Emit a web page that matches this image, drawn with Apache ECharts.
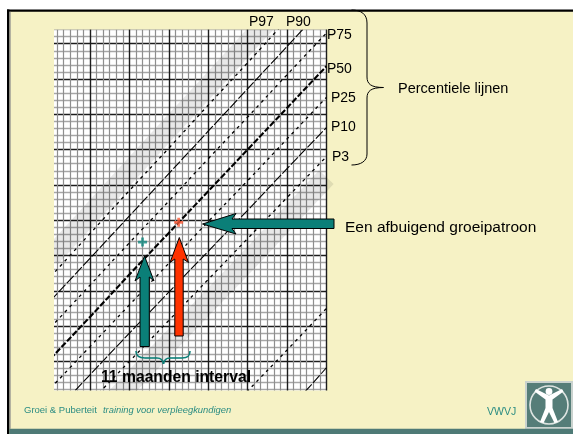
<!DOCTYPE html>
<html>
<head>
<meta charset="utf-8">
<script src="https://cdn.jsdelivr.net/npm/echarts@6/dist/echarts.min.js"></script>
<style>
html,body{margin:0;padding:0;background:#fff;}
#c{width:573px;height:434px;}
</style>
</head>
<body>
<div id="c"></div>
<script>
// ---- data (age in months, length in cm) ----
const months = [0, 12, 24, 36, 48, 60, 72, 84];
const p97 = [92.0, 98.1, 104.2, 110.2, 116.3, 122.3, 128.4, 134.4];
const p90 = [88.6, 94.6, 100.6, 106.6, 112.6, 118.6, 124.6, 130.6];
const p75 = [84.8, 90.8, 96.8, 102.7, 108.7, 114.6, 120.6, 126.5];
const p50 = [80.4, 86.3, 92.3, 98.2, 104.1, 110.0, 115.9, 121.8];
const p25 = [76.2, 82.1, 88.0, 93.9, 99.8, 105.6, 111.5, 117.4];
const p10 = [72.2, 78.1, 84.0, 89.8, 95.6, 101.4, 107.3, 113.1];
const p3  = [68.3, 74.2, 80.0, 85.8, 91.6, 97.4, 103.2, 109.0];
const bandHigh = [94.7, 100.8, 106.9, 113.0, 119.0, 125.1, 131.2, 137.3];
const bandLow  = [65.2, 71.0, 76.8, 82.6, 88.4, 94.2, 100.2, 106.1];
const extraA = [null, null, null, null, 69.9, 75.8, 81.6, 87.5];
const extraB = [null, null, null, null, null, 67.0, 72.9, 79.1];
const measureMonths = [28, 39];
const measureCm = [96.9, 99.7];
const percentileNames = ['P97', 'P90', 'P75', 'P50', 'P25', 'P10', 'P3'];

const pairs = arr => months.map((m, i) => [m, arr[i]]);
const FONT = '"Liberation Sans", Arial, sans-serif';
const TEAL = '#0b7f78';
const chart = echarts.init(document.getElementById('c'), null, {renderer: 'canvas'});

const dashed = {color: '#000', width: 1.3, type: [3, 4]};
const solid = {color: '#000', width: 1.1, type: [10, 2]};
function lineSeries(arr, style, z) {
  return {type: 'line', data: pairs(arr), smooth: true, symbol: 'none', silent: true,
          lineStyle: style, z: z || 3, animation: false};
}
const plusPath = 'path://M3.5,0L6.5,0L6.5,3.5L10,3.5L10,6.5L6.5,6.5L6.5,10L3.5,10L3.5,6.5L0,6.5L0,3.5L3.5,3.5Z';

// build a brace out of straight and cubic pieces
function braceParts(segs, stroke, width) {
  return segs.map(s => s.length === 4
    ? {type: 'line', shape: {x1: s[0], y1: s[1], x2: s[2], y2: s[3]}, style: {stroke, lineWidth: width}, z: 110}
    : {type: 'bezierCurve', shape: {x1: s[0], y1: s[1], cpx1: s[2], cpy1: s[3], cpx2: s[4], cpy2: s[5], x2: s[6], y2: s[7]},
       style: {stroke, lineWidth: width, fill: null}, z: 110});
}
const bigBrace = braceParts([
  [351.5,10, 361,10, 367,14, 367,23],
  [367,23, 367,77],
  [367,77, 367,84, 371,87.5, 383.5,87.5],
  [383.5,87.5, 371,87.5, 367,91, 367,98],
  [367,98, 367,154],
  [367,154, 367,161, 361,165, 351.5,165]
], '#000', 1);
const smallBrace = braceParts([
  [136,351, 136,356, 139,358, 145,358],
  [145,358, 157,358],
  [157,358, 161,358, 163,360, 163.5,364],
  [163.5,364, 164,360, 166,358, 170,358],
  [170,358, 182,358],
  [182,358, 188,358, 190,356, 190,351]
], TEAL, 1.6);

const graphics = [
  // covers around the chart paper
  {type: 'rect', shape: {x: 9, y: 11, width: 564, height: 18.6}, style: {fill: '#f6f2c5'}, z: 100},
  {type: 'rect', shape: {x: 9, y: 11, width: 45, height: 400}, style: {fill: '#f6f2c5'}, z: 100},
  {type: 'rect', shape: {x: 9, y: 390.6, width: 335, height: 20}, style: {fill: '#f6f2c5'}, z: 100},
  // slide frame
  {type: 'rect', shape: {x: 0, y: 0, width: 573, height: 10}, style: {fill: '#ffffff'}, z: 101},
  {type: 'rect', shape: {x: 0, y: 0, width: 7, height: 434}, style: {fill: '#ffffff'}, z: 101},
  {type: 'rect', shape: {x: 7, y: 9.5, width: 566, height: 2.2}, style: {fill: '#000'}, z: 102},
  {type: 'rect', shape: {x: 7, y: 9.5, width: 2.4, height: 425}, style: {fill: '#000'}, z: 102},
  {type: 'rect', shape: {x: 9.4, y: 11.7, width: 1.2, height: 417}, style: {fill: '#888'}, z: 102},
  {type: 'rect', shape: {x: 9.4, y: 428.8, width: 564, height: 6}, style: {fill: '#4e7a76'}, z: 102},
  // percentile labels
  {type: 'text', x: 249, y: 22, style: {text: percentileNames[0], font: '14px ' + FONT, fill: '#000', textVerticalAlign: 'middle'}, z: 110},
  {type: 'text', x: 286, y: 22, style: {text: percentileNames[1], font: '14px ' + FONT, fill: '#000', textVerticalAlign: 'middle'}, z: 110},
  {type: 'text', x: 327, y: 35, style: {text: percentileNames[2], font: '14px ' + FONT, fill: '#000', textVerticalAlign: 'middle'}, z: 110},
  {type: 'text', x: 327, y: 69, style: {text: percentileNames[3], font: '14px ' + FONT, fill: '#000', textVerticalAlign: 'middle'}, z: 110},
  {type: 'text', x: 331, y: 98, style: {text: percentileNames[4], font: '14px ' + FONT, fill: '#000', textVerticalAlign: 'middle'}, z: 110},
  {type: 'text', x: 331, y: 127, style: {text: percentileNames[5], font: '14px ' + FONT, fill: '#000', textVerticalAlign: 'middle'}, z: 110},
  {type: 'text', x: 332, y: 157, style: {text: percentileNames[6], font: '14px ' + FONT, fill: '#000', textVerticalAlign: 'middle'}, z: 110},
  ...bigBrace,
  {type: 'text', x: 398, y: 89, style: {text: 'Percentiele lijnen', font: '14.5px ' + FONT, fill: '#000', textVerticalAlign: 'middle'}, z: 110},
  // arrows
  {type: 'polygon', shape: {points: [[202.5,224],[236,213.5],[232,219],[334,219],[334,228.5],[232,228.5],[236,234]]},
   style: {fill: TEAL, stroke: '#000', lineWidth: 1}, z: 110},
  {type: 'polygon', shape: {points: [[144.5,256],[154,281],[149.3,277],[149.3,346.5],[140,346.5],[140,277],[135,281]]},
   style: {fill: TEAL, stroke: '#000', lineWidth: 1}, z: 110},
  {type: 'polygon', shape: {points: [[179.3,237.5],[188.5,262.5],[183.2,259],[183.2,336],[174.8,336],[174.8,259],[170,262.5]]},
   style: {fill: '#ff3300', stroke: '#000', lineWidth: 1}, z: 110},
  {type: 'text', x: 345, y: 228, style: {text: 'Een afbuigend groeipatroon', font: '15.5px ' + FONT, fill: '#000', textVerticalAlign: 'middle'}, z: 110},
  ...smallBrace,
  {type: 'text', x: 176, y: 378, style: {text: '11 maanden interval', font: 'bold 15.7px ' + FONT, fill: '#000', textAlign: 'center', textVerticalAlign: 'middle'}, z: 110},
  // footer
  {type: 'text', x: 24, y: 410, style: {text: 'Groei & Puberteit', font: '9.5px ' + FONT, fill: '#2a8c82', textVerticalAlign: 'middle'}, z: 110},
  {type: 'text', x: 103, y: 410, style: {text: 'training voor verpleegkundigen', font: 'italic 9.4px ' + FONT, fill: '#2a8c82', textVerticalAlign: 'middle'}, z: 110},
  {type: 'text', x: 487, y: 412, style: {text: 'VWVJ', font: '10.5px ' + FONT, fill: '#2a8c82', textVerticalAlign: 'middle'}, z: 110},
  // logo
  {type: 'group', x: 526, y: 382, z: 110, children: [
    {type: 'rect', shape: {x: 0, y: 0, width: 46, height: 46}, style: {fill: '#557d78', stroke: '#c9d2ce', lineWidth: 2}},
    {type: 'circle', shape: {cx: 23, cy: 23, r: 19}, style: {fill: null, stroke: '#dde4e1', lineWidth: 1.6}},
    {type: 'circle', shape: {cx: 23, cy: 9.5, r: 3.4}, style: {fill: '#fff'}},
    {type: 'polygon', shape: {points: [[23,13.5],[36,7],[37.5,9.5],[26.5,17.5],[26.5,26],[32,40],[28.5,41],[23,30],[17.5,41],[14,40],[19.5,26],[19.5,17.5],[8.5,9.5],[10,7]]},
     style: {fill: '#fff'}}
  ]}
];

const option = {
  backgroundColor: '#f6f2c5',
  animation: false,
  grid: {left: 50.6, right: 246.6, top: 8.4, bottom: 37.3, show: true, backgroundColor: '#ffffff', borderWidth: 0},
  xAxis: {
    type: 'value', min: 0, max: 84, interval: 12,
    axisLine: {show: false}, axisTick: {show: false}, axisLabel: {show: false},
    splitLine: {show: true, lineStyle: {color: '#1c1c1c', width: 1.4}},
    minorTick: {show: false, splitNumber: 6},
    minorSplitLine: {show: true, lineStyle: {color: '#8e8e8e', width: 1.2}}
  },
  yAxis: {
    type: 'value', min: 75, max: 130, interval: 5,
    axisLine: {show: false}, axisTick: {show: false}, axisLabel: {show: false},
    splitLine: {show: true, lineStyle: {color: '#1c1c1c', width: 1.4}},
    minorTick: {show: false, splitNumber: 5},
    minorSplitLine: {show: true, lineStyle: {color: '#a6a6a6', width: 1.4}}
  },
  series: [
    lineSeries(bandHigh, {color: 'rgba(0,0,0,0.09)', width: 20, type: 'solid', cap: 'butt'}, 1),
    lineSeries(bandLow, {color: 'rgba(0,0,0,0.09)', width: 20, type: 'solid', cap: 'butt'}, 1),
    lineSeries(p97, dashed),
    lineSeries(p90, solid),
    lineSeries(p75, dashed),
    lineSeries(p50, {color: '#000', width: 2.1, type: [6, 2]}),
    lineSeries(p25, dashed),
    lineSeries(p10, solid),
    lineSeries(p3, dashed),
    lineSeries(extraA, dashed),
    lineSeries(extraB, solid),
    {type: 'scatter', symbol: plusPath, symbolSize: 9, silent: true, z: 5,
     data: [{value: [measureMonths[0], measureCm[0]], itemStyle: {color: '#138a80'}},
            {value: [measureMonths[1], measureCm[1]], itemStyle: {color: '#ff5a36'}}]}
  ],
  graphic: {elements: graphics}
};
chart.setOption(option);
</script>
</body>
</html>
